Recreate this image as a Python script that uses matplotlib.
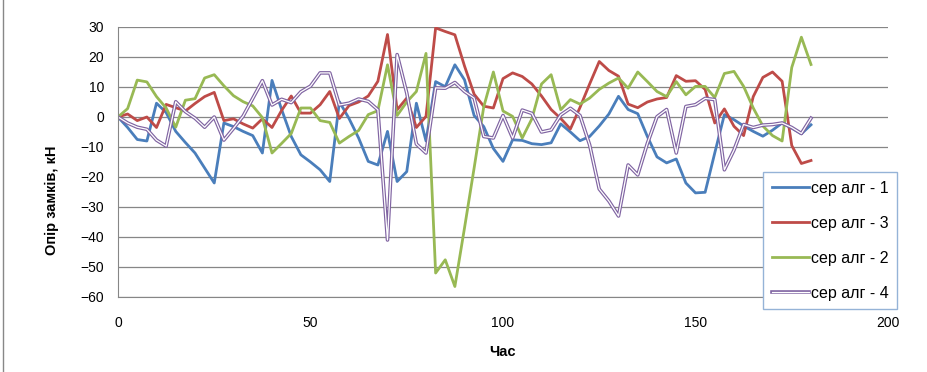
import matplotlib
matplotlib.use("Agg")
import matplotlib.pyplot as plt
import matplotlib.patheffects as pe
from matplotlib.lines import Line2D

plt.rcParams['font.family'] = ['Liberation Sans', 'DejaVu Sans']

# час, год
chas = [0, 2.5, 5, 7.5, 10, 12.5, 15, 17.5, 20, 22.5,
        25, 27.5, 30, 32.5, 35, 37.5, 40, 42.5, 45, 47.5,
        50, 52.5, 55, 57.5, 60, 62.5, 65, 67.5, 70, 72.5,
        75, 77.5, 80, 82.5, 85, 87.5, 90, 92.5, 95, 97.5,
        100, 102.5, 105, 107.5, 110, 112.5, 115, 117.5, 120, 122.5,
        125, 127.5, 130, 132.5, 135, 137.5, 140, 142.5, 145, 147.5,
        150, 152.5, 155, 157.5, 160, 162.5, 165, 167.5, 170, 172.5,
        175, 177.5, 180]

alg1 = [0, -3.5, -7.5, -8, 4.6, 1.5, -4.8, -8.5, -12, -17,
        -22, -2, -3.2, -4.8, -6.2, -12, 12.2, 2.5, -6.5, -12.6,
        -15, -17.6, -21.5, 5.1, -0.5, -7, -14.8, -16, -4.8, -21.5,
        -18.2, 4.6, -8, 11.8, 10.1, 17.4, 12.4, 0.5, -3.2, -10.5,
        -14.8, -7.6, -7.8, -8.9, -9.2, -8.6, -2.3, -5, -7.9, -6.5,
        -3, 1, 6.9, 2.5, 1.1, -6.5, -13.3, -15.3, -14, -22,
        -25.3, -25.1, -12, 0.8, -0.9, -3, -4.8, -6.4, -4.4, -2,
        -3.7, -5.6, -2.6]

alg3 = [0, 1, -1.2, 0, -3.5, 4.2, 3.1, 2, 4.5, 6.8,
        8.2, -1.2, -0.6, -2.3, -3.7, -0.6, -3.5, 2.2, 7, 1.3,
        1.3, 4.1, 8.5, -0.5, 3.8, 5, 7, 11.9, 27.5, 2.4,
        6.3, -3.5, 0.2, 29.7, 28.5, 27.4, 17, 7.6, 3.6, 3,
        12.8, 14.7, 13.5, 11, 7, 2.5, -0.5, -4, 3.2, 11,
        18.5, 15.5, 13.6, 4.3, 3.1, 5, 6, 6.5, 13.8, 11.9,
        12.1, 9.2, -2, 2.7, -3.1, -6.2, 6.8, 13.2, 15, 11.9,
        -9.5, -15.5, -14.5]

alg2 = [0, 2.8, 12.3, 11.7, 6.8, 3, -3.4, 5.6, 6.1, 13,
        14.1, 10.4, 7.1, 5.1, 3.7, -0.2, -12, -8.8, -5.5, 3,
        3, -1.2, -1.8, -8.7, -6.5, -4.5, 0.8, 2.1, 17.4, 0.5,
        5, 8.5, 21.2, -52, -47.6, -56.5, -37, -17, 3.4, 15,
        2, 0.2, -7, -0.6, 11, 14.1, 2.4, 5.8, 4.3, 6.3,
        9.2, 11.3, 13, 9.6, 15, 11.8, 8.5, 6.8, 11.8, 7.4,
        10.2, 10.2, 6.5, 14.5, 15.2, 10.2, 3, -3, -6.2, -8,
        16.5, 26.6, 17.5]

alg4 = [0, -2, -3.4, -4.1, -7.7, -9.7, 5.1, 1.8, -0.4, -3.4,
        0, -7.7, -3.8, 0.3, 6.2, 12.1, 4, 5.9, 4.8, 8.4,
        10.3, 14.7, 14.7, 4, 4.6, 6, 5.2, 2.4, -41, 20.8,
        8, -9, -12, 9.7, 9.6, 11.5, 8.5, 6.3, -6.5, -7,
        0.5, -7, 2.3, 1.2, -5, -4.3, 0.7, 2.9, 0.5, -9.3,
        -24, -28, -33, -16, -19.3, -8.8, 0.1, 2.5, -12, 3.5,
        4.1, 6.2, 5.8, -17.6, -11, -2.5, -3.5, -2.7, -2.5, -2,
        -3.5, -5.5, -0.4]

fig = plt.figure(figsize=(9.28, 3.72), dpi=100)
ax = fig.add_axes([118/928, 1 - 297/372, 770/928, 270/372])

ax.plot(chas, alg1, color='#4a7ebb', lw=2.0, label='сер алг - 1')
ax.plot(chas, alg3, color='#be4b48', lw=2.0, label='сер алг - 3')
ax.plot(chas, alg2, color='#98b954', lw=2.0, label='сер алг - 2')
ax.plot(chas, alg4, color='white', lw=0.9, label='сер алг - 4',
        path_effects=[pe.Stroke(linewidth=2.6, foreground='#8064a2'), pe.Normal()])

ax.set_xlim(0, 200)
ax.set_ylim(-60, 30)
ax.set_xticks([0, 50, 100, 150, 200])
ax.set_yticks(range(-60, 31, 10))
ax.yaxis.grid(True, color='#868686', lw=0.9)
ax.set_axisbelow(True)
for s in ['top', 'right']:
    ax.spines[s].set_visible(False)
for s in ['left', 'bottom']:
    ax.spines[s].set_color('#868686')
ax.tick_params(axis='both', length=0, labelsize=10)
ax.tick_params(axis='x', pad=14)
ax.tick_params(axis='y', pad=10)

ax.set_ylabel('Опір замків, кН', fontsize=10.5, fontweight='bold')
ax.yaxis.set_label_coords(-0.077, 0.36)
ax.set_xlabel('Час', fontsize=10.5, fontweight='bold')
ax.xaxis.set_label_coords(0.5, -0.178)

leg = ax.legend(loc='upper left', bbox_to_anchor=(763/928, 1 - 172/372),
                bbox_transform=fig.transFigure, fancybox=False, framealpha=1,
                edgecolor='#95b3d7', fontsize=11.5, handlelength=2.3,
                handletextpad=0.15, labelspacing=1.25, borderpad=0.55, borderaxespad=0)
leg.get_frame().set_linewidth(1.0)

fig.add_artist(Line2D([3.5/928, 3.5/928], [0, 1], transform=fig.transFigure,
                      color='#888888', lw=1))

fig.savefig('out.png', dpi=100)
